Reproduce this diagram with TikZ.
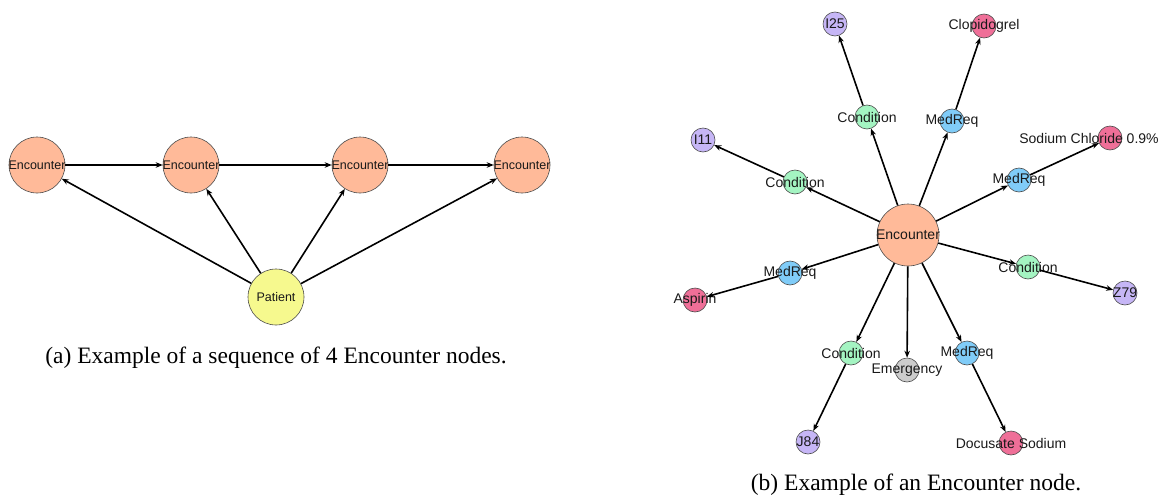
\documentclass[tikz,border=0pt]{standalone}
\usepackage{fontspec}
\setmainfont{Liberation Serif}
\setsansfont{Liberation Sans}
\usetikzlibrary{arrows.meta}
\definecolor{encpeach}{HTML}{FFBA99}
\definecolor{patyellow}{HTML}{F6F98E}
\definecolor{condgreen}{HTML}{A4F4C2}
\definecolor{medblue}{HTML}{80CCF8}
\definecolor{icdpurple}{HTML}{C6B6F6}
\definecolor{drugpink}{HTML}{EF6F98}
\definecolor{emgray}{HTML}{CCCCCC}

\begin{document}
\begin{tikzpicture}[x=1pt, y=-1pt,
    entity/.style={circle, draw=black!70, line width=0.6pt, inner sep=0pt},
    encounter/.style={entity, fill=encpeach, minimum size=56pt},
    bigencounter/.style={entity, fill=encpeach, minimum size=62pt},
    patient/.style={entity, fill=patyellow, minimum size=56pt},
    condition/.style={entity, fill=condgreen, minimum size=24pt},
    medreq/.style={entity, fill=medblue, minimum size=24pt},
    icd/.style={entity, fill=icdpurple, minimum size=24pt},
    drug/.style={entity, fill=drugpink, minimum size=24pt},
    emergency/.style={entity, fill=emgray, minimum size=24pt},
    lbla/.style={font=\sffamily\fontsize{12.5}{13}\selectfont, text=black!90},
    lblb/.style={font=\sffamily\fontsize{14}{15}\selectfont, text=black!90},
    caption/.style={font=\rmfamily\fontsize{23.5}{26}\selectfont},
    link/.style={-{Stealth[length=7pt,width=5.5pt]}, line width=1.6pt}
]
    \useasboundingbox (0,0) rectangle (1158,495);

    % (a) sequence of encounters
    \node[encounter, label={[lbla]center:Encounter}] (enc1) at (37,165) {};
    \node[encounter, label={[lbla]center:Encounter}] (enc2) at (191,165) {};
    \node[encounter, label={[lbla]center:Encounter}] (enc3) at (360,165) {};
    \node[encounter, label={[lbla]center:Encounter}] (enc4) at (522,165) {};
    \node[patient, label={[lbla]center:Patient}] (pat) at (276,297) {};

    \draw[link] (enc1) -- (enc2);
    \draw[link] (enc2) -- (enc3);
    \draw[link] (enc3) -- (enc4);
    \foreach \e in {enc1,enc2,enc3,enc4}
        \draw[link] (pat) -- (\e);

    \node[caption] (capa) at (276,358) {(a) Example of a sequence of 4 Encounter nodes.};

    % (b) one encounter and its neighbours
    \node[bigencounter, label={[lblb]center:Encounter}] (enc) at (908,235) {};

    \node[condition, label={[lblb]center:Condition}] (condA) at (867,117) {};
    \node[medreq, label={[lblb]center:MedReq}] (medA) at (952,121) {};
    \node[condition, label={[lblb]center:Condition}] (condB) at (795,182) {};
    \node[medreq, label={[lblb]center:MedReq}] (medB) at (1019,180) {};
    \node[medreq, label={[lblb]center:MedReq}] (medC) at (790,273) {};
    \node[condition, label={[lblb]center:Condition}] (condC) at (1028,267) {};
    \node[condition, label={[lblb]center:Condition}] (condD) at (851,353) {};
    \node[emergency, label={[lblb]center:Emergency}] (emerg) at (907,370) {};
    \node[medreq, label={[lblb]center:MedReq}] (medD) at (967,353) {};

    \node[icd, label={[lblb]center:I25}] (i25) at (835,24) {};
    \node[drug, label={[lblb]center:Clopidogrel}] (clop) at (984,26) {};
    \node[icd, label={[lblb]center:I11}] (i11) at (703,140) {};
    \node[drug, label={[lblb, xshift=-21pt]center:Sodium Chloride 0.9\%}] (nacl) at (1110,138) {};
    \node[drug, label={[lblb]center:Aspirin}] (asp) at (695,300) {};
    \node[icd, label={[lblb]center:Z79}] (z79) at (1125,293) {};
    \node[icd, label={[lblb]center:J84}] (j84) at (808,442) {};
    \node[drug, label={[lblb]center:Docusate Sodium}] (docu) at (1011,443) {};

    \foreach \n in {condA,medA,condB,medB,medC,condC,condD,emerg,medD}
        \draw[link] (enc) -- (\n);
    \draw[link] (condA) -- (i25);
    \draw[link] (medA) -- (clop);
    \draw[link] (condB) -- (i11);
    \draw[link] (medB) -- (nacl);
    \draw[link] (medC) -- (asp);
    \draw[link] (condC) -- (z79);
    \draw[link] (condD) -- (j84);
    \draw[link] (medD) -- (docu);

    \node[caption] (capb) at (916,485) {(b) Example of an Encounter node.};
\end{tikzpicture}
\end{document}
